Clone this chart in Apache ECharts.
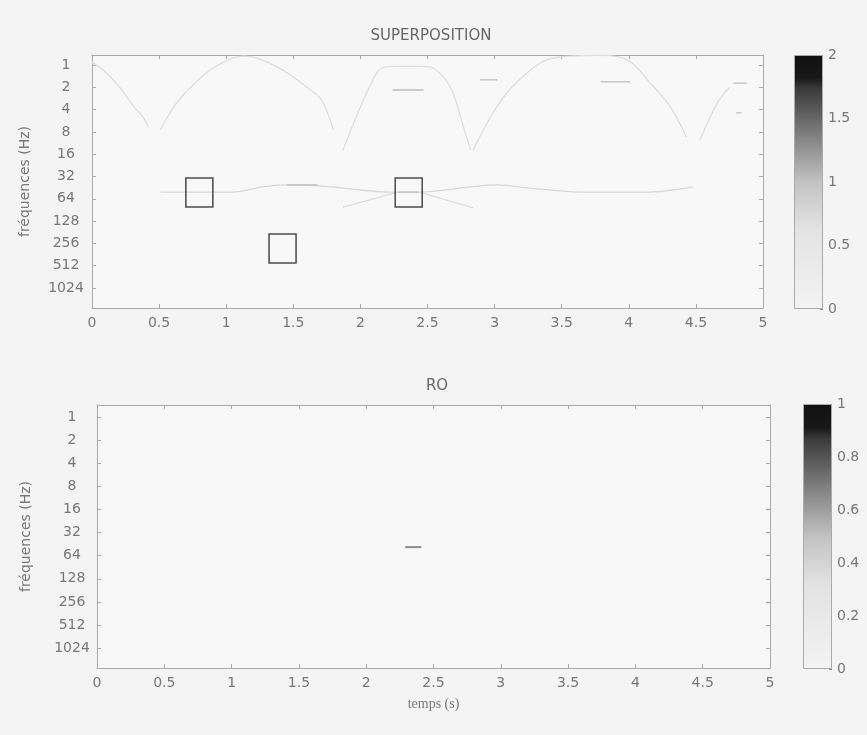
<!DOCTYPE html>
<html>
<head>
<meta charset="utf-8">
<script src="https://cdn.jsdelivr.net/npm/echarts@6/dist/echarts.min.js"></script>
<style>
html,body{margin:0;padding:0;background:#f4f4f4;}
#chart{width:867px;height:735px;}
</style>
</head>
<body>
<div id="chart"></div>
<script>
// ---------- data (time in s, frequency as log2(Hz)) ----------
const freqTickExps = [0,1,2,3,4,5,6,7,8,9,10];
const freqTickLabels = ['1','2','4','8','16','32','64','128','256','512','1024'];
const topCbarTicks = [0,0.5,1,1.5,2];
const botCbarTicks = [0,0.2,0.4,0.6,0.8,1];

// faint ridges of the SUPERPOSITION scalogram
const arcLeftEdge = [[0,-0.13],[0.1,0.31],[0.21,1.03],[0.32,1.93],[0.38,2.33],[0.42,2.8]];
const arcPeak1 = [[0.51,2.91],[0.62,1.79],[0.73,1.03],[0.88,0.22],[1.05,-0.31],[1.13,-0.4],[1.23,-0.31],[1.42,0.22],[1.6,0.99],[1.71,1.57],[1.8,2.91]];
const arcPeak2 = [[1.87,3.81],[2.0,1.88],[2.12,0.36],[2.18,0.09],[2.35,0.05],[2.52,0.09],[2.62,0.54],[2.69,1.26],[2.76,2.6],[2.82,3.81]];
const arcPeak3 = [[2.84,3.81],[2.97,2.33],[3.11,1.12],[3.34,-0.09],[3.49,-0.36],[3.79,-0.43],[4.0,-0.2],[4.16,0.81],[4.31,1.88],[4.43,3.23]];
const arcRight = [[4.53,3.36],[4.66,1.7],[4.75,0.99]];
const ridge64 = [[0.51,5.7],[1.05,5.7],[1.27,5.47],[1.42,5.38],[1.72,5.43],[1.87,5.52],[2.22,5.7],[2.44,5.7],[2.82,5.47],[3.02,5.38],[3.26,5.52],[3.64,5.7],[4.16,5.7],[4.48,5.47]];
const crossLeft = [[1.87,6.37],[2.26,5.74]];
const crossRight = [[2.44,5.7],[2.84,6.41]];
const darkDashes = [
  [[2.24,1.12],[2.47,1.12]],
  [[2.89,0.67],[3.02,0.67]],
  [[3.79,0.76],[4.01,0.76]],
  [[4.78,0.81],[4.88,0.81]],
  [[4.8,2.15],[4.84,2.15]],
  [[2.28,5.7],[2.43,5.7]],
  [[1.45,5.38],[1.68,5.38]]
];
// selected boxes (centres)
const squareCenters = [[0.8,5.72],[1.42,8.23],[2.36,5.72]];
// RO panel: single detected mark
const roMark = [[2.29,5.63],[2.41,5.63]];
const topCbarMax = 2;
const botCbarMax = 1;

// ---------- chart ----------
const chart = echarts.init(document.getElementById('chart'));
const F = 'DejaVu Sans';
const LBL = {fontFamily:F, fontSize:14, color:'#777'};
const AXC = '#aaa';

function mainX(grid, pos, labels, extra){
  return Object.assign({
    type:'value', gridIndex:grid, position:pos, min:0, max:5, interval:0.5,
    axisLine:{show:true, onZero:false, lineStyle:{color:AXC,width:1}},
    axisTick:{show:true, inside:true, length:4, lineStyle:{color:AXC}},
    axisLabel:Object.assign({show:labels, margin:8, formatter:v=>String(v)}, LBL),
    splitLine:{show:false}
  }, extra||{});
}
function mainY(grid, pos, labels, mn, mx, margin, extra){
  return Object.assign({
    type:'value', gridIndex:grid, position:pos, min:mn, max:mx, inverse:true,
    axisLine:{show:true, onZero:false, lineStyle:{color:AXC,width:1}},
    axisTick:{show:true, inside:true, length:4, lineStyle:{color:AXC}, customValues:freqTickExps},
    axisLabel:Object.assign({show:labels, margin:margin, align:'center', customValues:freqTickExps,
      formatter:v=>freqTickLabels[freqTickExps.indexOf(Math.round(v))]}, LBL),
    splitLine:{show:false}
  }, extra||{});
}
function cbY(grid, mx, ticks){
  return {
    type:'value', gridIndex:grid, position:'right', min:0, max:mx,
    axisLine:{show:false, onZero:false},
    axisTick:{show:true, inside:true, length:3, lineStyle:{color:'#888'}, customValues:ticks},
    axisLabel:Object.assign({margin:5, customValues:ticks, formatter:v=>String(v)}, LBL),
    splitLine:{show:false}
  };
}
function cbX(grid){
  return {type:'category', gridIndex:grid, data:['c'], show:false, boundaryGap:true};
}
function cbGrad(){
  return new echarts.graphic.LinearGradient(0,0,0,1,[
    {offset:0,color:'#111'},{offset:0.09,color:'#181818'},{offset:0.13,color:'#3a3a3a'},
    {offset:0.3,color:'#7a7a7a'},{offset:0.5,color:'#c2c2c2'},{offset:0.68,color:'#e2e2e2'},
    {offset:1,color:'#f3f3f3'}]);
}
function curve(data, color, w){
  return {type:'line', xAxisIndex:0, yAxisIndex:0, data:data, showSymbol:false, smooth:0.3,
    lineStyle:{color:color||'#dedede', width:w||1.3}, silent:true, z:2};
}

const series = [
  curve(arcLeftEdge), curve(arcPeak1), curve(arcPeak2), curve(arcPeak3), curve(arcRight),
  curve(ridge64,'#d8d8d8'), curve(crossLeft,'#dcdcdc'), curve(crossRight,'#dcdcdc')
];
darkDashes.forEach(d=>series.push(curve(d,'#bdbdbd',1.3)));
series.push({
  type:'scatter', xAxisIndex:0, yAxisIndex:0, data:squareCenters, symbol:'rect', symbolSize:[27,29],
  itemStyle:{color:'rgba(0,0,0,0)', borderColor:'#222', borderWidth:1.6}, silent:true, z:5
});
series.push({type:'bar', xAxisIndex:2, yAxisIndex:2, data:[topCbarMax], barWidth:'100%',
  itemStyle:{color:cbGrad(), borderColor:'#aaa', borderWidth:1}, silent:true});
series.push({type:'line', xAxisIndex:3, yAxisIndex:3, data:roMark, showSymbol:false,
  lineStyle:{color:'#8a8a8a', width:2}, silent:true});
series.push({type:'bar', xAxisIndex:5, yAxisIndex:5, data:[botCbarMax], barWidth:'100%',
  itemStyle:{color:cbGrad(), borderColor:'#aaa', borderWidth:1}, silent:true});

chart.setOption({
  backgroundColor:'#f4f4f4',
  animation:false,
  title:[
    {text:'SUPERPOSITION', left:426, top:24, textAlign:'center',
      textStyle:{fontFamily:F, fontSize:15, fontWeight:'normal', color:'#666'}},
    {text:'RO', left:432, top:374, textAlign:'center',
      textStyle:{fontFamily:F, fontSize:15, fontWeight:'normal', color:'#666'}}
  ],
  grid:[
    {left:92, top:55, width:671, height:253, show:true, backgroundColor:'#f8f8f8', borderWidth:0},
    {left:794, top:55, width:29, height:254},
    {left:97, top:405, width:673, height:263, show:true, backgroundColor:'#f8f8f8', borderWidth:0},
    {left:803, top:404, width:29, height:265}
  ],
  xAxis:[
    mainX(0,'bottom',true),
    mainX(0,'top',false),
    cbX(1),
    mainX(2,'bottom',true,{name:'temps (s)', nameLocation:'middle', nameGap:29,
      nameTextStyle:{fontFamily:'Liberation Serif', fontSize:14, color:'#777'}}),
    mainX(2,'top',false),
    cbX(3)
  ],
  yAxis:[
    mainY(0,'left',true,-0.45,10.9,26,{name:'fréquences (Hz)', nameLocation:'middle', nameGap:60,
      nameTextStyle:Object.assign({}, LBL)}),
    mainY(0,'right',false,-0.45,10.9,0),
    cbY(1, topCbarMax, topCbarTicks),
    mainY(2,'left',true,-0.52,10.86,25,{name:'fréquences (Hz)', nameLocation:'middle', nameGap:64,
      nameTextStyle:Object.assign({}, LBL)}),
    mainY(2,'right',false,-0.52,10.86,0),
    cbY(3, botCbarMax, botCbarTicks)
  ],
  series:series
});
</script>
</body>
</html>
